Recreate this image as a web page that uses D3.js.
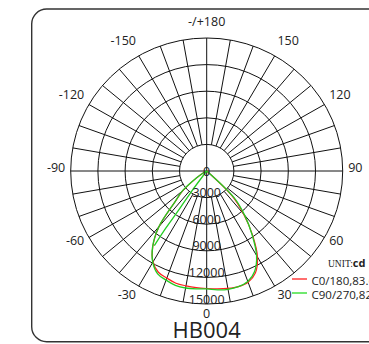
<!DOCTYPE html>
<html><head><meta charset="utf-8">
<script src="https://cdn.jsdelivr.net/npm/d3@7"></script>
<style>html,body{margin:0;padding:0;background:#fff;}svg{display:block;}</style>
</head><body>
<svg id="c" width="369" height="344"></svg>
<script>
// ---- data ----
const gammas = [0,5,10,15,20,25,30,35,40,45,50,55,60,65,70,75,80,85,90];
const c0   = [13250,13350,13450,13500,13350,12700,11200,8800,6300,3900,0,0,0,0,0,0,0,0,0];        // right, red
const c180 = [13250,13200,13150,13100,12850,12600,11850,10350,8150,5000,3400,1400,500,100,0,0,0,0,0]; // left, red
const c90  = [13300,13450,13550,13500,13250,12500,11000,8700,6500,4300,0,0,0,0,0,0,0,0,0];         // right, green
const c270 = [13300,13350,13400,13350,13100,12800,11900,10400,8200,5000,3500,1400,500,100,0,0,0,0,0]; // left, green
const c270InnerGamma = [36,36,35,35,34.5];
const c270InnerValue = [0,3000,5500,7800,10200];
const ringValues = [3000,6000,9000,12000,15000];
const angleTicks = [180,-150,150,-120,120,-90,90,-60,60,-30,30,0];
const angleLabels = ["-/+180","-150","150","-120","120","-90","90","-60","60","-30","30","0"];
const legendNames = ["C0/180,83.6%","C90/270,82.9%"];
const title = "HB004";

// ---- layout ----
const svg = d3.select("#c");
const cx = 206.7, cy = 171, rx = 136, ry = 133, maxV = 15000;
const xS = d3.scaleLinear().domain([-maxV, maxV]).range([cx - rx, cx + rx]);
const yS = d3.scaleLinear().domain([-maxV, maxV]).range([cy - ry, cy + ry]);
const rad = d => d * Math.PI / 180;
const px = (g, v) => xS(v * Math.sin(rad(g)));
const py = (g, v) => yS(v * Math.cos(rad(g)));
const font = "'Open Sans', 'Noto Sans', sans-serif";

// border
svg.append("rect").attr("x", 31.7).attr("y", 9).attr("width", 400).attr("height", 332.7)
  .attr("rx", 15).attr("fill", "none").attr("stroke", "#333").attr("stroke-width", 1.4);

const grid = svg.append("g").attr("stroke", "#111").attr("stroke-width", 1).attr("fill", "none");
ringValues.forEach(v => {
  grid.append("ellipse").attr("cx", cx).attr("cy", cy)
    .attr("rx", xS(v) - cx).attr("ry", yS(v) - cy);
});
for (let a = -170; a <= 180; a += 10) {
  const full = (a % 90 === 0);
  const r0 = full ? 0 : ringValues[0];
  grid.append("line")
    .attr("x1", px(a, r0)).attr("y1", py(a, r0))
    .attr("x2", px(a, maxV)).attr("y2", py(a, maxV));
}

// curves
function halfPoints(vals, sign) {
  const pts = [];
  for (let i = 0; i < gammas.length; i++) {
    pts.push([px(sign * gammas[i], vals[i]), py(sign * gammas[i], vals[i])]);
    if (vals[i] === 0) break;
  }
  return pts;
}
function curvePts(left, right) {
  const l = halfPoints(left, -1).reverse();
  const r = halfPoints(right, 1);
  return l.concat(r.slice(1));
}
const line = d3.line().curve(d3.curveCatmullRom.alpha(0.5));
svg.append("path").attr("d", line(curvePts(c180, c0)))
  .attr("fill", "none").attr("stroke", "#ff2020").attr("stroke-width", 1.2);
svg.append("path").attr("d", line(curvePts(c270, c90)))
  .attr("fill", "none").attr("stroke", "#22cc22").attr("stroke-width", 1.3);
svg.append("path").attr("d", line(c270InnerGamma.map((g, i) => [px(-g, c270InnerValue[i]), py(-g, c270InnerValue[i])])))
  .attr("fill", "none").attr("stroke", "#22cc22").attr("stroke-width", 1.3);

// angle labels
const lab = svg.append("g").attr("font-family", font).attr("font-size", 12.5).attr("fill", "#222");
angleTicks.forEach((a, i) => {
  const s = Math.sin(rad(a)), c = Math.cos(rad(a));
  const x = cx + rx * 1.04 * s;
  const y = cy + ry * 1.10 * c - 3.5;
  const anchor = Math.abs(s) < 0.01 ? "middle" : (s < 0 ? "end" : "start");
  lab.append("text").attr("x", x).attr("y", y).attr("dy", "0.35em")
    .attr("text-anchor", anchor).text(angleLabels[i]);
});
// value labels
const vl = svg.append("g").attr("font-family", font).attr("font-size", 12.5).attr("fill", "#222").attr("text-anchor", "middle");
vl.append("text").attr("x", cx).attr("y", cy + 4.5).text("0");
ringValues.forEach(v => {
  vl.append("text").attr("x", cx).attr("y", yS(v) - 0.5).text(v);
});

// legend
const lg = svg.append("g");
const unit = lg.append("text").attr("x", 328).attr("y", 267).attr("fill", "#222");
unit.append("tspan").attr("font-family", "'Liberation Serif', serif").attr("font-size", 9.5).text("UNIT:");
unit.append("tspan").attr("font-family", font).attr("font-weight", "bold").attr("font-size", 11).text("cd");
const legColors = ["#ff2020", "#22dd22"];
const legY = d3.scaleLinear().domain([0, 1]).range([279, 293]);
legendNames.forEach((n, i) => {
  lg.append("line").attr("x1", 292).attr("x2", 307).attr("y1", legY(i)).attr("y2", legY(i))
    .attr("stroke", legColors[i]).attr("stroke-width", 1.3);
  lg.append("text").attr("x", 311.5).attr("y", legY(i) + 1.5).attr("dy", "0.35em")
    .attr("font-family", font).attr("font-size", 11.5).attr("fill", "#222").text(n);
});

// title
svg.append("text").attr("x", cx).attr("y", 338).attr("text-anchor", "middle")
  .attr("font-family", font).attr("font-size", 22).attr("fill", "#222").text(title);
</script>
</body></html>
